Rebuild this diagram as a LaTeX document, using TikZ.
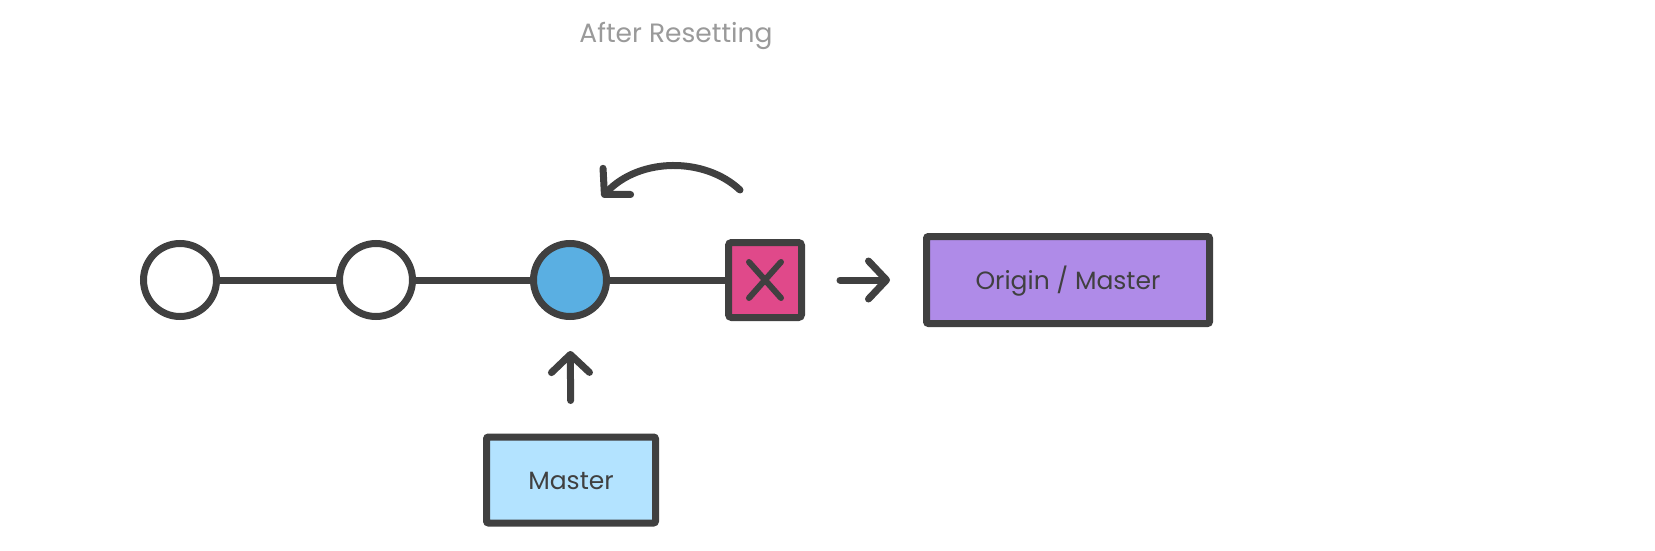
\documentclass[tikz,border=0pt]{standalone}
\usepackage{fontspec}
\setmainfont{Poppins}
\usetikzlibrary{arrows.meta}
\definecolor{ink}{HTML}{404040}
\definecolor{titlegray}{HTML}{9A9A9A}
\definecolor{commitblue}{HTML}{5AAFE2}
\definecolor{droppink}{HTML}{E0498A}
\definecolor{masterblue}{HTML}{B3E3FF}
\definecolor{originpurple}{HTML}{AF8BE8}
\begin{document}
\begin{tikzpicture}[x=1pt,y=-1pt,
  commit/.style={circle, draw=ink, line width=7pt, minimum size=73pt, inner sep=0pt},
  dropped/.style={rectangle, rounded corners=3pt, draw=ink, fill=droppink, line width=7pt, minimum width=73pt, minimum height=75pt, inner sep=0pt},
  branchbox/.style={rectangle, rounded corners=2pt, draw=ink, line width=7pt, inner sep=0pt, text=ink,
    font=\fontsize{25}{30}\selectfont, text height=18pt, text depth=0pt},
  link/.style={draw=ink, line width=7pt},
  pointer/.style={draw=ink, line width=7pt, line cap=round, -{Straight Barb[length=18pt, width=38pt, round]}},
  crossline/.style={draw=ink, line width=6pt, line cap=round}
]
\useasboundingbox[fill=white] (0,0) rectangle (1655,551);

\node[text=titlegray, font=\fontsize{26.5}{30}\selectfont, anchor=base] (title) at (676,43) {After Resetting};

\node[commit, fill=white] (c1) at (180,280) {};
\node[commit, fill=white] (c2) at (376,280) {};
\node[commit, fill=commitblue] (c3) at (570,280) {};
\node[dropped] (sq) at (765,280) {};

\draw[link] (c1) -- (c2);
\draw[link] (c2) -- (c3);
\draw[link] (c3) -- (sq);

\draw[crossline] ([shift={(-16,-18)}]sq.center) -- ([shift={(16,18)}]sq.center);
\draw[crossline] ([shift={(16,-18)}]sq.center) -- ([shift={(-16,18)}]sq.center);

\node[branchbox, fill=masterblue, minimum width=169pt, minimum height=86pt] (master) at (571,480) {Master};
\node[branchbox, fill=originpurple, minimum width=283pt, minimum height=87pt] (origin) at (1068,280) {Origin / Master};

\draw[pointer, shorten <=33pt, shorten >=31pt] (master) -- (c3);
\draw[pointer, shorten <=35pt, shorten >=33pt] (sq) -- (origin);

\coordinate (arcstart) at (740,190);
\coordinate (arcend) at (602,197);
\draw[pointer] (arcstart) .. controls (705,157) and (640,157) .. (arcend);
\end{tikzpicture}
\end{document}
